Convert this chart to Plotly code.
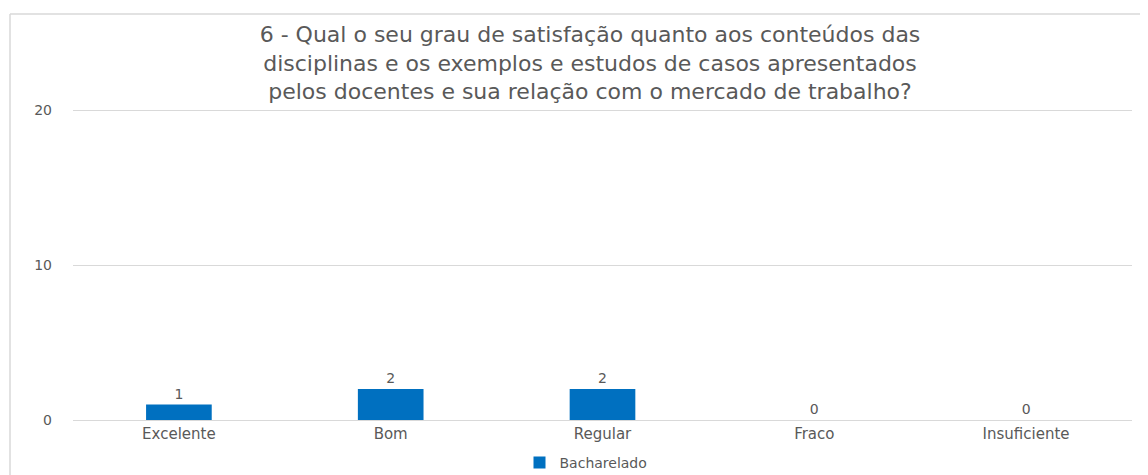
import plotly.graph_objects as go

categories = ["Excelente", "Bom", "Regular", "Fraco", "Insuficiente"]
values = [1, 2, 2, 0, 0]
series_name = "Bacharelado"
title_lines = [
    "6 - Qual o seu grau de satisfação quanto aos conteúdos das",
    "disciplinas e os exemplos e estudos de casos apresentados",
    "pelos docentes e sua relação com o mercado de trabalho?",
]
y_ticks = [0, 10, 20]

FONT = "DejaVu Sans, Verdana, sans-serif"
GRAY = "#595959"
LINE = "#d9d9d9"

# page body has an 8px margin, so the figure is sized/offset accordingly
OFF = 8
W, H = 1148 - OFF, 475 - OFF
ml, mr, mt, mb = 73 - OFF, 16, 97, 55
pw, ph = W - ml - mr, H - mt - mb
ytop = 20 + (ph - 310) / 15.5
bx = (10 - OFF - ml) / pw
by = (H - mb - (14 - OFF)) / ph

fig = go.Figure()
fig.add_trace(go.Bar(
    x=categories, y=values, name=series_name,
    marker=dict(color="#0070C0", line=dict(width=0)), width=0.31,
    text=[str(v) for v in values], textposition="outside",
    textfont=dict(family=FONT, size=14, color=GRAY),
    cliponaxis=False, showlegend=True,
))

fig.update_layout(
    width=W, height=H,
    margin=dict(l=ml, r=mr, t=mt, b=mb, autoexpand=False),
    paper_bgcolor="white", plot_bgcolor="white",
    font=dict(family=FONT, color=GRAY, size=14),
    title=dict(text="<br>".join(title_lines), x=(590 - OFF) / W, xanchor="center",
               y=1 - (42 - OFF) / H, yanchor="middle",
               font=dict(family=FONT, size=22, color=GRAY)),
    xaxis=dict(showgrid=False, showline=True, linecolor=LINE, linewidth=1,
               ticks="", automargin=False, tickfont=dict(size=15, color=GRAY)),
    yaxis=dict(range=[0, ytop], tickvals=y_ticks, showgrid=True, gridcolor=LINE,
               gridwidth=1, zeroline=False, showline=False, ticks="", automargin=False,
               tickfont=dict(size=14, color=GRAY), ticklabelstandoff=20),
    legend=dict(orientation="h", x=(586 - OFF - ml) / pw, xanchor="center",
                y=(H - mb - (463 - OFF)) / ph, yanchor="middle",
                font=dict(size=14, color=GRAY)),
    shapes=[
        dict(type="line", xref="paper", yref="paper", x0=bx, x1=bx, y0=by, y1=-0.3,
             line=dict(color=LINE, width=1.5)),
        dict(type="line", xref="paper", yref="paper", x0=bx, x1=1.05, y0=by, y1=by,
             line=dict(color=LINE, width=1.5)),
    ],
)

fig.write_html("out.html")
